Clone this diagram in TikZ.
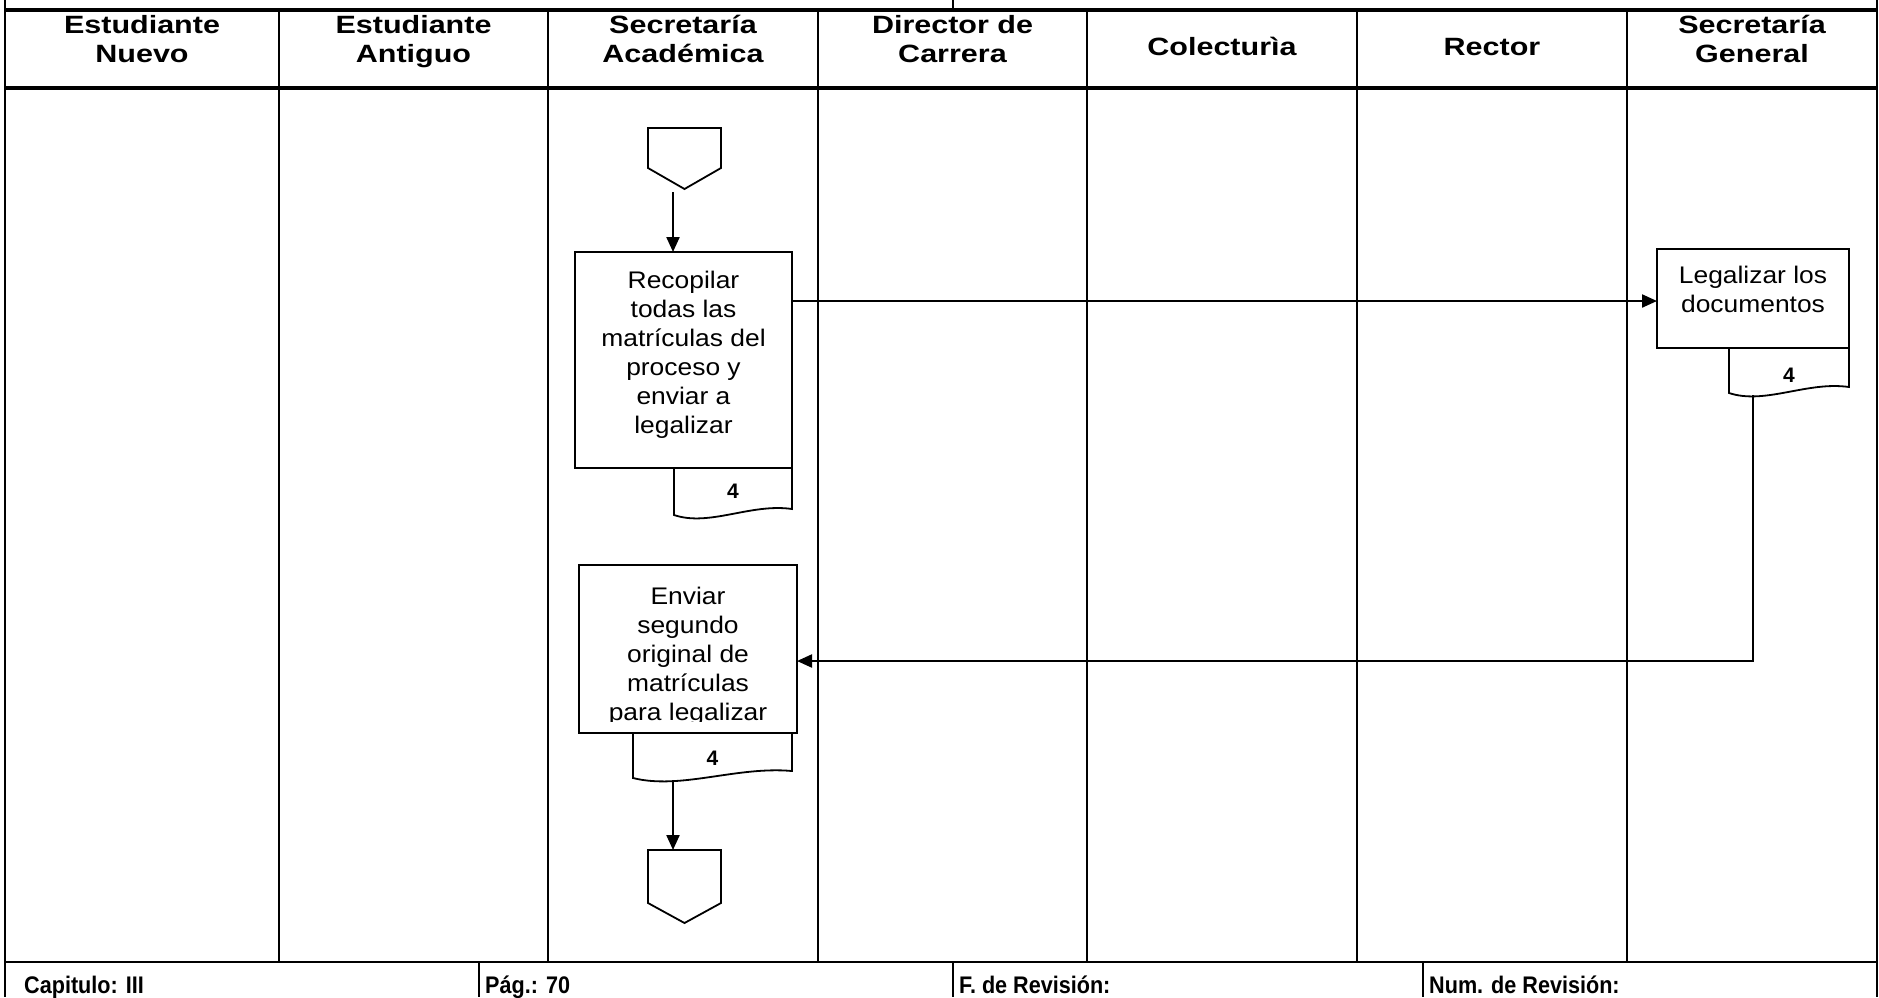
\documentclass[tikz,border=0pt]{standalone}
\usepackage{fontspec}
\setmainfont{Liberation Sans}
\newfontfamily\footfont[FakeStretch=0.9]{Liberation Sans}
\newfontfamily\bodyfont[FakeStretch=1.1]{Liberation Sans}
\newfontfamily\headfont[FakeStretch=1.22]{Liberation Sans}
\usetikzlibrary{arrows.meta}

\tikzset{
  frame/.style={line width=2pt},
  heavy/.style={line width=3.2pt},
  shp/.style={draw, line width=1.8pt},
  taskbox/.style={shp, inner sep=0pt},
  flow/.style={line width=2.2pt, -{Triangle[length=15pt,width=13pt]}},
  lanetitle/.style={font=\headfont\fontsize{25}{29}\selectfont\bfseries, align=center, anchor=base, inner sep=0pt},
  tasktext/.style={font=\bodyfont\fontsize{24}{29}\selectfont, align=center, anchor=base, inner sep=0pt},
  docnum/.style={font=\fontsize{21}{21}\selectfont\bfseries, inner sep=0pt},
  foottext/.style={font=\footfont\fontsize{24}{24}\selectfont\bfseries, anchor=base west, inner sep=0pt}
}

\begin{document}
\begin{tikzpicture}[x=1pt,y=-1pt]
\useasboundingbox (0,0) rectangle (1879,997);

% ---- table frame ----
\draw[frame] (5,0) -- (5,997);
\draw[frame] (1877,0) -- (1877,997);
\draw[frame] (953,0) -- (953,10);
\draw[heavy] (5,10) -- (1877,10);
\draw[heavy] (5,88) -- (1877,88);
\foreach \x in {279,548,818,1087,1357,1627}
  \draw[frame] (\x,10) -- (\x,962);
\draw[frame] (5,962) -- (1877,962);
\foreach \x in {479,953,1423}
  \draw[frame] (\x,962) -- (\x,997);

% ---- lane titles (base = last line) ----
\node[lanetitle] (h1) at (142,62) {Estudiante\\Nuevo};
\node[lanetitle] (h2) at (413.5,62) {Estudiante\\Antiguo};
\node[lanetitle] (h3) at (683,62) {Secretaría\\Académica};
\node[lanetitle] (h4) at (952.5,62) {Director de\\Carrera};
\node[lanetitle] (h5) at (1222,55) {Colecturìa};
\node[lanetitle] (h6) at (1492,55) {Rector};
\node[lanetitle] (h7) at (1752,62) {Secretaría\\General};

% ---- footer ----
\node[foottext] (f1) at (24,993) {Capitulo: III};
\node[foottext] (f2) at (485,993) {Pág.: 70};
\node[foottext] (f3) at (959,993) {F. de Revisión:};
\node[foottext] (f4) at (1429,993) {Num. de Revisión:};

% ---- incoming off-page connector ----
\draw[shp] (648,128) -- (721,128) -- (721,168) -- (684.5,189) coordinate (p1tip) -- (648,168) -- cycle;
\coordinate (p1out) at (673,192);

% ---- Recopilar ----
\node[taskbox, minimum width=217pt, minimum height=216pt] (r1) at (683.5,360) {};
\node[tasktext] (t1) at (683.5,433.5) {Recopilar\\todas las\\matrículas del\\proceso y\\enviar a\\legalizar};
\draw[shp] (674,468) -- (792,468) -- (792,509) .. controls (750.7,503) and (709.4,527) .. (674,515) -- cycle;
\node[docnum] (n1) at (733,491) {4};
\coordinate (r1in) at (673,252);
\coordinate (r1out) at (792,301);

% ---- Legalizar ----
\node[taskbox, minimum width=192pt, minimum height=99pt] (r2) at (1753,298.5) {};
\node[tasktext] (t2) at (1753,312) {Legalizar los\\documentos};
\draw[shp] (1729,348) -- (1849,348) -- (1849,387) .. controls (1807,381) and (1765,405) .. (1729,393) -- cycle;
\node[docnum] (n2) at (1789,375) {4};
\coordinate (d2b) at (1753,395);
\coordinate (r2in) at (1657,301);

% ---- Enviar (last line runs past the clip) ----
\node[taskbox, minimum width=218pt, minimum height=168pt] (r3) at (688,649) {};
\begin{scope}
  \clip (579,565) rectangle (797,721);
  \node[tasktext] (t3) at (688,720) {Enviar\\segundo\\original de\\matrículas\\para legalizar};
\end{scope}
\draw[shp] (633,733) -- (792,733) -- (792,771) .. controls (736.4,766) and (680.7,790) .. (633,778) -- cycle;
\node[docnum] (n3) at (712.5,758) {4};
\coordinate (d3b) at (673,780);
\coordinate (r3in) at (797,661);

% ---- outgoing off-page connector ----
\draw[shp] (648,850) coordinate (p2top) -- (721,850) -- (721,903) -- (684.5,923) -- (648,903) -- cycle;
\coordinate (p2in) at (673,850);

% ---- flow ----
\draw[flow] (p1out) -- (r1in);
\draw[flow] (r1out) -- (r2in);
\draw[flow] (d2b) |- (r3in);
\draw[flow] (d3b) -- (p2in);

\end{tikzpicture}
\end{document}
